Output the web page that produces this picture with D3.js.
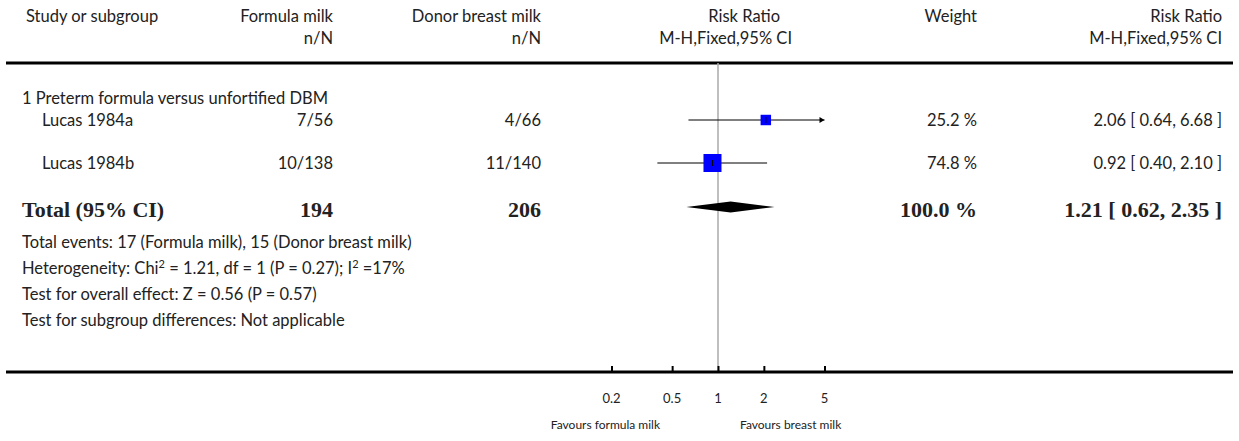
<!DOCTYPE html>
<html><head><meta charset="utf-8">
<script src="https://cdn.jsdelivr.net/npm/d3@7"></script>
<style>
body{margin:0;background:#fff;}
svg text{font-family:Lato,"Open Sans",sans-serif;fill:#222;}
</style></head>
<body><svg id="c" width="1239" height="441"></svg>
<script>
const studies = ["Lucas 1984a", "Lucas 1984b"];
const formulaNN = ["7/56", "10/138"];
const donorNN = ["4/66", "11/140"];
const rr = [2.06, 0.92];
const ciLow = [0.64, 0.40];
const ciHigh = [6.68, 2.10];
const weights = [25.2, 74.8];
const rrText = ["2.06 [ 0.64, 6.68 ]", "0.92 [ 0.40, 2.10 ]"];
const subgroupTitle = "1 Preterm formula versus unfortified DBM";
const totalN = ["194", "206"];
const totalRR = 1.21, totalLow = 0.62, totalHigh = 2.35;
const totalWeight = "100.0 %";
const totalText = "1.21 [ 0.62, 2.35 ]";
const footer = [
  ["Total events: 17 (Formula milk), 15 (Donor breast milk)"],
  ["Heterogeneity: Chi", "^2", " = 1.21, df = 1 (P = 0.27); I", "^2", " =17%"],
  ["Test for overall effect: Z = 0.56 (P = 0.57)"],
  ["Test for subgroup differences: Not applicable"]
];
const tickValues = [0.2, 0.5, 1, 2, 5];
const tickLabels = ["0.2", "0.5", "1", "2", "5"];
const favourLeft = "Favours formula milk";
const favourRight = "Favours breast milk";

const svg = d3.select("#c");
const x = d3.scaleLog().domain([0.2, 5]).range([611.5, 824.5]);
const sz = d3.scaleSqrt().domain([0, 74.8]).range([0, 18]);
const fs = 16.5;
const bs = 22;

function txt(s, xx, yy, anchor, opts = {}) {
  return svg.append("text").attr("x", xx).attr("y", yy)
    .attr("text-anchor", anchor || "start")
    .attr("font-size", opts.size || fs)
    .attr("font-weight", opts.weight || "normal")
    .style("font-family", opts.serif ? "'Liberation Serif','DejaVu Serif',serif" : null)
    .text(s);
}

// headers
txt("Study or subgroup", 26, 22, "start");
txt("Formula milk", 333, 22, "end");
txt("n/N", 333, 44, "end");
txt("Donor breast milk", 541, 22, "end");
txt("n/N", 541, 44, "end");
txt("Risk Ratio", 780, 22, "end");
txt("M-H,Fixed,95% CI", 792, 44, "end");
txt("Weight", 977, 22, "end");
txt("Risk Ratio", 1222, 22, "end");
txt("M-H,Fixed,95% CI", 1222, 44, "end");

// header rule
svg.append("line").attr("x1", 6).attr("x2", 1233).attr("y1", 63).attr("y2", 63)
  .attr("stroke", "#000").attr("stroke-width", 3);

// reference line at 1
svg.append("line").attr("x1", x(1)).attr("x2", x(1)).attr("y1", 63).attr("y2", 372)
  .attr("stroke", "#aaa").attr("stroke-width", 1.5);

// subgroup title
txt(subgroupTitle, 22, 104, "start");

const rowY = [120, 163];
studies.forEach((s, i) => {
  const y = rowY[i];
  txt(s, 42, y + 6, "start");
  txt(formulaNN[i], 333, y + 6, "end");
  txt(donorNN[i], 541, y + 6, "end");
  txt(weights[i].toFixed(1) + " %", 977, y + 6, "end");
  txt(rrText[i], 1222, y + 6, "end");
  const [d0, d1] = x.domain();
  const xl = x(Math.max(ciLow[i], d0)), xh = x(Math.min(ciHigh[i], d1));
  svg.append("line").attr("x1", xl).attr("x2", xh).attr("y1", y).attr("y2", y)
    .attr("stroke", "#000").attr("stroke-width", 1);
  if (ciHigh[i] > d1) {
    svg.append("path").attr("d", `M${xh},${y} l-5,-3 l0,6 z`).attr("fill", "#000");
  }
  if (ciLow[i] < d0) {
    svg.append("path").attr("d", `M${xl},${y} l5,-3 l0,6 z`).attr("fill", "#000");
  }
  const w = sz(weights[i]);
  svg.append("rect").attr("x", x(rr[i]) - w / 2).attr("y", y - w / 2)
    .attr("width", w).attr("height", w).attr("fill", "#0000ff");
  svg.append("line").attr("x1", x(rr[i])).attr("x2", x(rr[i])).attr("y1", y - 3).attr("y2", y + 3)
    .attr("stroke", "#000").attr("stroke-width", 1);
});

// total row
const ty = 207;
const tb = 217;
txt("Total (95% CI)", 22, tb, "start", {serif: true, weight: "bold", size: bs});
txt(totalN[0], 333, tb, "end", {serif: true, weight: "bold", size: bs});
txt(totalN[1], 541, tb, "end", {serif: true, weight: "bold", size: bs});
txt(totalWeight, 977, tb, "end", {serif: true, weight: "bold", size: bs});
txt(totalText, 1222, tb, "end", {serif: true, weight: "bold", size: bs});
svg.append("path")
  .attr("d", `M${x(totalLow)},${ty} L${x(totalRR)},${ty - 5.5} L${x(totalHigh)},${ty} L${x(totalRR)},${ty + 5.5} Z`)
  .attr("fill", "#000");

// footer
const fy = [248, 274, 300, 326];
footer.forEach((parts, i) => {
  const t = svg.append("text").attr("x", 22).attr("y", fy[i]).attr("font-size", fs);
  let raised = false;
  parts.forEach(p => {
    if (p.startsWith("^")) {
      t.append("tspan").attr("dy", -6).attr("font-size", 11).text(p.slice(1));
      raised = true;
    } else {
      const ts = t.append("tspan").text(p);
      if (raised) { ts.attr("dy", 6); raised = false; }
    }
  });
});

// axis
svg.append("line").attr("x1", 6).attr("x2", 1233).attr("y1", 372).attr("y2", 372)
  .attr("stroke", "#000").attr("stroke-width", 3);
const ax = svg.append("g").attr("transform", "translate(0,372)");
ax.call(d3.axisTop(x).tickValues(tickValues).tickFormat("").tickSize(6).tickSizeOuter(0));
ax.select(".domain").remove();
ax.selectAll(".tick line").attr("stroke", "#000").attr("stroke-width", 2);
tickValues.forEach((v, i) => {
  txt(tickLabels[i], x(v), 403, "middle", {size: 13});
});
txt(favourLeft, 660, 429, "end", {size: 12});
txt(favourRight, 740, 429, "start", {size: 12});
</script></body></html>
